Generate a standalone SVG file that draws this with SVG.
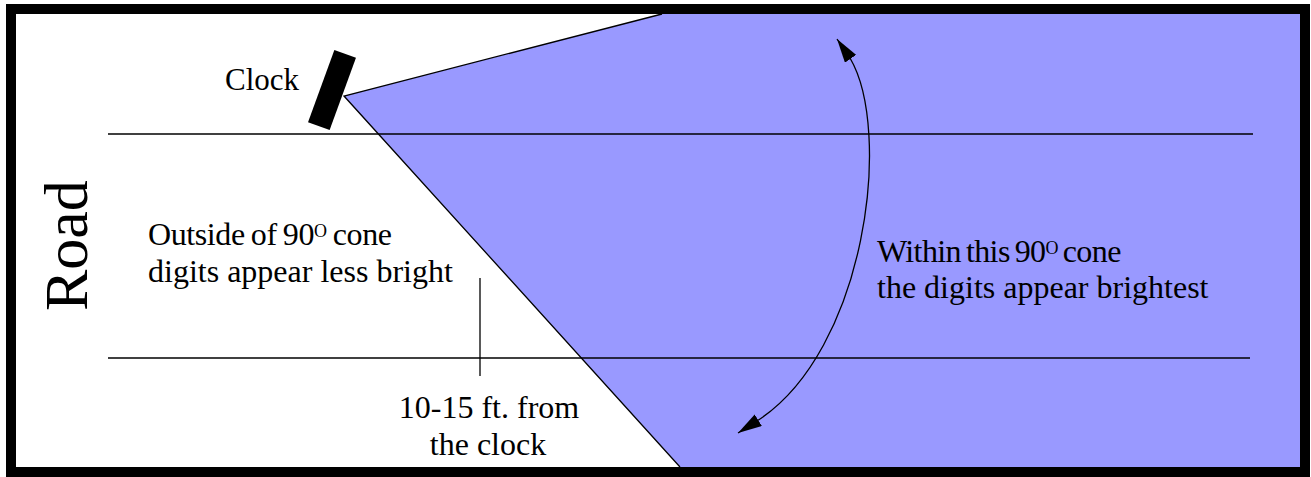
<svg xmlns="http://www.w3.org/2000/svg" width="1311" height="477" viewBox="0 0 1311 477">
  <style>
    .t { font-family: "Liberation Serif", "Times New Roman", serif; font-size: 32px; fill: #000; }
    .sup { font-size: 18px; }
    .ln { stroke: #000; stroke-width: 1.3; fill: none; }
  </style>
  <defs>
    <marker id="ah" markerUnits="userSpaceOnUse" markerWidth="24" markerHeight="14" viewBox="0 0 23 13" refX="23" refY="6.5" orient="auto-start-reverse">
      <path d="M0,0 L23,6.5 L0,13 z" fill="#000"/>
    </marker>
  </defs>
  <rect x="0" y="0" width="1311" height="477" fill="#fff"/>

  <g id="cone">
    <polygon points="344,96 662,14 1300,14 1300,467 680,467" fill="#9999ff"/>
    <polyline points="662,14 344,96 680,467" class="ln"/>
  </g>

  <g id="road">
    <line x1="108" y1="134" x2="1253" y2="134" class="ln"/>
    <line x1="108" y1="358" x2="1250" y2="358" class="ln"/>
    <text class="t" style="font-size:62px" transform="translate(87,311) rotate(-90)">Road</text>
  </g>

  <g id="clock">
    <rect x="320.5" y="51.5" width="23" height="77" fill="#000" transform="rotate(20 332 90)"/>
    <text class="t" x="225" y="90" style="font-size:31px">Clock</text>
  </g>

  <g id="outside-label">
    <text class="t" x="148" y="245" word-spacing="-1.5" letter-spacing="-0.4">Outside of 90<tspan class="sup" dy="-8">O</tspan><tspan dy="8"> cone</tspan></text>
    <text class="t" x="148" y="282">digits appear less bright</text>
  </g>

  <g id="inside-label">
    <text class="t" x="877" y="262" word-spacing="-2.5" letter-spacing="-0.6">Within this 90<tspan class="sup" dy="-8">O</tspan><tspan dy="8"> cone</tspan></text>
    <text class="t" x="877" y="298">the digits appear brightest</text>
  </g>

  <g id="distance-label">
    <text class="t" x="489" y="418" text-anchor="middle">10-15 ft. from</text>
    <text class="t" x="488" y="455" text-anchor="middle">the clock</text>
  </g>

  <g id="connectors">
    <line x1="480" y1="278" x2="480" y2="376" class="ln"/>
    <path d="M837,39 L850,58 C893,131 866,351 757,421 L738,433" class="ln" marker-start="url(#ah)" marker-end="url(#ah)"/>
  </g>

  <rect id="frame" x="11" y="9" width="1294" height="463" fill="none" stroke="#000" stroke-width="10"/>
</svg>
